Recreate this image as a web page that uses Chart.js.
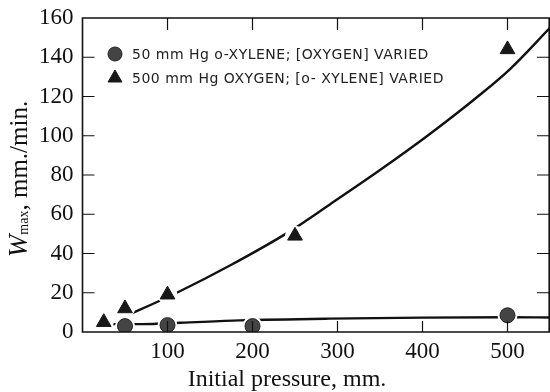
<!DOCTYPE html>
<html>
<head>
<meta charset="utf-8">
<script src="https://cdn.jsdelivr.net/npm/chart.js@4.4.1/dist/chart.umd.min.js"></script>
<style>
  html, body { margin: 0; padding: 0; background: #fff; }
  #wrap { width: 550px; height: 392px; }
</style>
</head>
<body>
<div id="wrap"><canvas id="c" width="550" height="392"></canvas></div>
<script>
// Measured rates: 50 mm Hg o-xylene with oxygen varied
const xylenePressure = [50, 100, 200, 500];
const xyleneRate = [3, 3.5, 3, 8.5];
// Measured rates: 500 mm Hg oxygen with o-xylene varied
const oxygenPressure = [25, 50, 100, 250, 500];
const oxygenRate = [5, 12, 19, 49, 144];

// Hand-drawn smooth curves through each set
const xyleneCurveX = [35, 70, 115, 185, 290, 400, 500, 550];
const xyleneCurveY = [4, 4, 4.7, 5.9, 6.8, 7.3, 7.5, 7.4];
const oxygenCurveX = [50, 59, 111, 174, 241, 291, 350, 409, 468, 503, 550];
const oxygenCurveY = [8, 9.7, 20, 34, 50.5, 65, 82.5, 101, 121, 134, 155];

const xTickValues = [100, 200, 300, 400, 500];
const yTickValues = [0, 20, 40, 60, 80, 100, 120, 140, 160];

const legendLabels = [
  '50 mm Hg o-XYLENE; [OXYGEN] VARIED',
  '500 mm Hg OXYGEN; [o- XYLENE] VARIED'
];
const xTitle = 'Initial pressure, mm.';

const INK = '#111';
const SERIF = '"Liberation Serif", "Times New Roman", serif';

const pairs = (xs, ys) => xs.map((x, i) => ({ x, y: ys[i] }));

// Box frame with inward ticks on all four sides
const framePlugin = {
  id: 'frame',
  afterDatasetsDraw(chart) {
    const { ctx, chartArea: a, scales: { x, y } } = chart;
    ctx.save();
    ctx.strokeStyle = INK;
    ctx.lineWidth = 1.6;
    ctx.beginPath();
    ctx.rect(a.left, a.top, a.right - a.left - 0.8, a.bottom - a.top);
    ctx.stroke();
    ctx.lineWidth = 1.2;
    ctx.beginPath();
    x.ticks.forEach(t => {
      const px = x.getPixelForValue(t.value);
      ctx.moveTo(px, a.bottom); ctx.lineTo(px, a.bottom - 11);
      ctx.moveTo(px, a.top); ctx.lineTo(px, a.top + 12);
    });
    y.ticks.forEach(t => {
      if (t.value <= y.min || t.value >= y.max) return;
      const py = y.getPixelForValue(t.value);
      ctx.moveTo(a.left, py); ctx.lineTo(a.left + 12, py);
      ctx.moveTo(a.right, py); ctx.lineTo(a.right - 13, py);
    });
    ctx.stroke();
    ctx.restore();
  }
};

// Axis titles and the in-plot key
const annotatePlugin = {
  id: 'annotate',
  afterDraw(chart) {
    const { ctx } = chart;
    ctx.save();
    ctx.fillStyle = INK;

    // x-axis title
    ctx.font = '24px ' + SERIF;
    ctx.textAlign = 'center';
    ctx.textBaseline = 'alphabetic';
    ctx.fillText(xTitle, 287, 386);

    // y-axis title: W (italic) with subscript "max", reading upward
    const parts = [
      { t: 'W', f: 'italic 27px ' + SERIF, b: 27 },
      { t: 'max', f: '14px ' + SERIF, b: 28 },
      { t: ', mm./min.', f: '25px ' + SERIF, b: 27 }
    ];
    let total = 0;
    parts.forEach(p => { ctx.font = p.f; p.w = ctx.measureText(p.t).width; total += p.w; });
    ctx.rotate(-Math.PI / 2);
    ctx.textAlign = 'left';
    let lx = -179 - total / 2;
    parts.forEach(p => {
      ctx.font = p.f;
      ctx.fillText(p.t, lx, p.b);
      lx += p.w;
    });
    ctx.setTransform(1, 0, 0, 1, 0, 0);

    // key
    const keyDatasets = chart.data.datasets.filter(d => d.isKey);
    keyDatasets.forEach((d, i) => {
      const cy = 54 + i * 24;
      ctx.fillStyle = d.backgroundColor;
      ctx.strokeStyle = d.borderColor;
      ctx.lineWidth = 1;
      Chart.helpers.drawPoint(ctx, {
        pointStyle: d.pointStyle, radius: d.pointRadius - 0.5, rotation: 0, borderWidth: 1
      }, 115, cy);
      ctx.fillStyle = '#222';
      ctx.font = '14px "DejaVu Sans", sans-serif';
      ctx.letterSpacing = '0.5px';
      ctx.textBaseline = 'middle';
      ctx.fillText(legendLabels[i], 132, cy + 1);
    });
    ctx.restore();
  }
};

new Chart(document.getElementById('c'), {
  type: 'scatter',
  data: {
    datasets: [
      {
        label: legendLabels[0], isKey: true,
        data: pairs(xylenePressure, xyleneRate),
        pointStyle: 'circle', pointRadius: 7.5,
        backgroundColor: '#444', borderColor: '#222', borderWidth: 1,
        order: 0
      },
      {
        label: legendLabels[1], isKey: true,
        data: pairs(oxygenPressure, oxygenRate),
        pointStyle: 'triangle', pointRadius: 8.5,
        backgroundColor: '#181818', borderColor: '#181818', borderWidth: 1,
        order: 0
      },
      {
        label: 'gap1', data: pairs(xylenePressure, xyleneRate),
        pointStyle: 'circle', pointRadius: 10,
        backgroundColor: '#fff', borderWidth: 0, order: 1
      },
      {
        label: 'gap2', data: pairs(oxygenPressure, oxygenRate),
        pointStyle: 'circle', pointRadius: 10,
        backgroundColor: '#fff', borderWidth: 0, order: 1
      },
      {
        label: 'curve1', type: 'line',
        data: pairs(xyleneCurveX, xyleneCurveY),
        borderColor: INK, borderWidth: 2.4, pointRadius: 0,
        cubicInterpolationMode: 'monotone', fill: false, order: 2
      },
      {
        label: 'curve2', type: 'line',
        data: pairs(oxygenCurveX, oxygenCurveY),
        borderColor: INK, borderWidth: 2.4, pointRadius: 0,
        cubicInterpolationMode: 'monotone', fill: false, order: 2
      }
    ]
  },
  options: {
    responsive: false,
    animation: false,
    devicePixelRatio: 1,
    layout: { autoPadding: false, padding: { top: 18, right: 0, left: 0, bottom: 0 } },
    plugins: { legend: { display: false }, tooltip: { enabled: false } },
    scales: {
      x: {
        type: 'linear', min: 0, max: 550,
        grid: { display: false, drawTicks: false },
        border: { display: false },
        afterBuildTicks: s => { s.ticks = xTickValues.map(v => ({ value: v })); },
        afterFit: s => { s.height = 60; s.paddingLeft = 0; s.paddingRight = 0; },
        ticks: {
          autoSkip: false, maxRotation: 0, padding: 6, color: INK,
          font: { family: SERIF, size: 23 }
        }
      },
      y: {
        type: 'linear', min: 0, max: 160,
        grid: { display: false, drawTicks: false },
        border: { display: false },
        afterBuildTicks: s => { s.ticks = yTickValues.map(v => ({ value: v })); },
        afterFit: s => { s.width = 82.5; s.paddingTop = 0; s.paddingBottom = 0; },
        ticks: {
          autoSkip: false, padding: 9, color: INK,
          font: { family: SERIF, size: 23 }
        }
      }
    }
  },
  plugins: [framePlugin, annotatePlugin]
});
</script>
</body>
</html>
